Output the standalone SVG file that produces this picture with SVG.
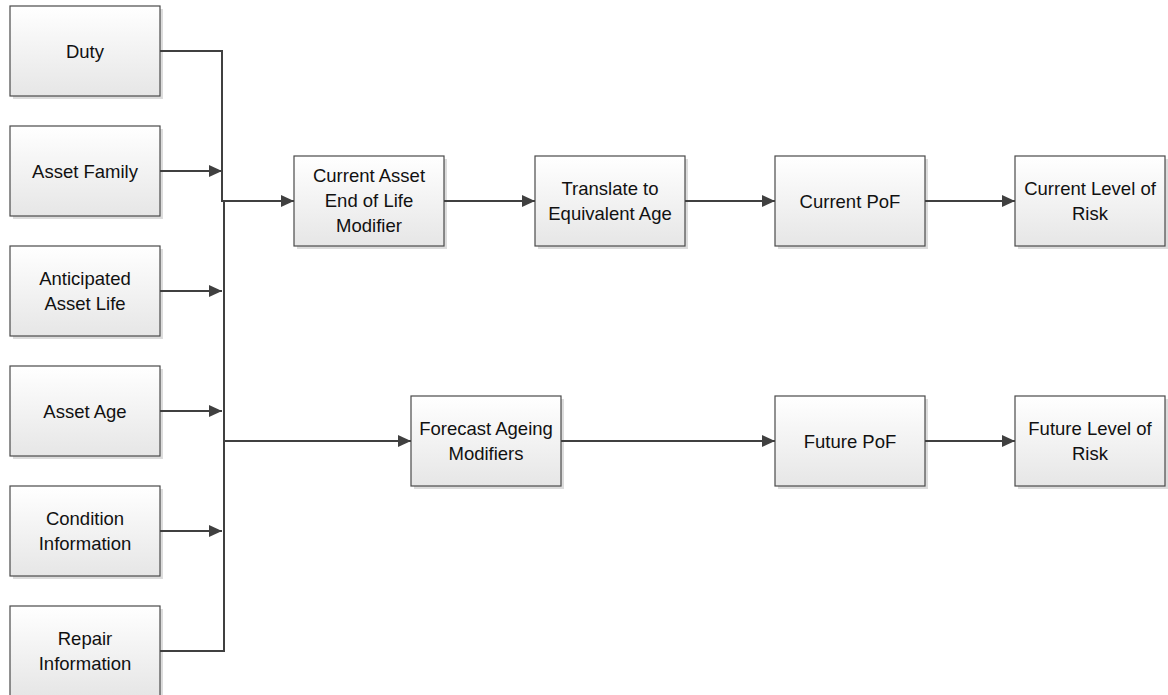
<svg xmlns="http://www.w3.org/2000/svg" width="1168" height="695" viewBox="0 0 1168 695">
  <style>
    .box { fill: url(#boxFill); stroke: #4a4a4a; stroke-width: 1.2; }
    .shadow { fill: #dcdcdc; }
    .label { font-family: "Liberation Sans", Arial, sans-serif; font-size: 18.5px; fill: #111; text-anchor: middle; }
    .wire { fill: none; stroke: #404040; stroke-width: 2; }
  </style>
  <defs>
    <linearGradient id="boxFill" x1="0" y1="0" x2="0" y2="1">
      <stop offset="0" stop-color="#ffffff"/>
      <stop offset="1" stop-color="#e6e6e6"/>
    </linearGradient>
    <marker id="arrow" viewBox="0 0 13 12" refX="13" refY="6" markerWidth="13" markerHeight="12" markerUnits="userSpaceOnUse" orient="auto">
      <path d="M0,0 L13,6 L0,12 Z" fill="#404040"/>
    </marker>
  </defs>
  <rect width="1168" height="695" fill="#ffffff"/>

  <!-- input nodes -->
  <g id="duty">
    <rect class="shadow" x="13" y="9" width="150" height="90"/>
    <rect class="box" x="10" y="6" width="150" height="90"/>
    <text class="label" x="85" y="57.5">Duty</text>
  </g>
  <g id="asset-family">
    <rect class="shadow" x="13" y="129" width="150" height="90"/>
    <rect class="box" x="10" y="126" width="150" height="90"/>
    <text class="label" x="85" y="177.5">Asset Family</text>
  </g>
  <g id="anticipated-asset-life">
    <rect class="shadow" x="13" y="249" width="150" height="90"/>
    <rect class="box" x="10" y="246" width="150" height="90"/>
    <text class="label" x="85" y="285">Anticipated</text>
    <text class="label" x="85" y="310">Asset Life</text>
  </g>
  <g id="asset-age">
    <rect class="shadow" x="13" y="369" width="150" height="90"/>
    <rect class="box" x="10" y="366" width="150" height="90"/>
    <text class="label" x="85" y="417.5">Asset Age</text>
  </g>
  <g id="condition-information">
    <rect class="shadow" x="13" y="489" width="150" height="90"/>
    <rect class="box" x="10" y="486" width="150" height="90"/>
    <text class="label" x="85" y="525">Condition</text>
    <text class="label" x="85" y="550">Information</text>
  </g>
  <g id="repair-information">
    <rect class="shadow" x="13" y="609" width="150" height="90"/>
    <rect class="box" x="10" y="606" width="150" height="90"/>
    <text class="label" x="85" y="645">Repair</text>
    <text class="label" x="85" y="670">Information</text>
  </g>

  <!-- current-state chain -->
  <g id="current-eol-modifier">
    <rect class="shadow" x="297" y="159" width="150" height="90"/>
    <rect class="box" x="294" y="156" width="150" height="90"/>
    <text class="label" x="369" y="182">Current Asset</text>
    <text class="label" x="369" y="207">End of Life</text>
    <text class="label" x="369" y="232">Modifier</text>
  </g>
  <g id="equivalent-age">
    <rect class="shadow" x="538" y="159" width="150" height="90"/>
    <rect class="box" x="535" y="156" width="150" height="90"/>
    <text class="label" x="610" y="195">Translate to</text>
    <text class="label" x="610" y="220">Equivalent Age</text>
  </g>
  <g id="current-pof">
    <rect class="shadow" x="778" y="159" width="150" height="90"/>
    <rect class="box" x="775" y="156" width="150" height="90"/>
    <text class="label" x="850" y="207.5">Current PoF</text>
  </g>
  <g id="current-risk">
    <rect class="shadow" x="1018" y="159" width="150" height="90"/>
    <rect class="box" x="1015" y="156" width="150" height="90"/>
    <text class="label" x="1090" y="195">Current Level of</text>
    <text class="label" x="1090" y="220">Risk</text>
  </g>

  <!-- forecast chain -->
  <g id="forecast-modifiers">
    <rect class="shadow" x="414" y="399" width="150" height="90"/>
    <rect class="box" x="411" y="396" width="150" height="90"/>
    <text class="label" x="486" y="435">Forecast Ageing</text>
    <text class="label" x="486" y="460">Modifiers</text>
  </g>
  <g id="future-pof">
    <rect class="shadow" x="778" y="399" width="150" height="90"/>
    <rect class="box" x="775" y="396" width="150" height="90"/>
    <text class="label" x="850" y="447.5">Future PoF</text>
  </g>
  <g id="future-risk">
    <rect class="shadow" x="1018" y="399" width="150" height="90"/>
    <rect class="box" x="1015" y="396" width="150" height="90"/>
    <text class="label" x="1090" y="435">Future Level of</text>
    <text class="label" x="1090" y="460">Risk</text>
  </g>

  <!-- connectors, drawn over the box shadows -->
  <g id="connectors">
    <path class="wire" d="M160,51 H222 V201 H294" marker-end="url(#arrow)"/>
    <path class="wire" d="M160,171 H222" marker-end="url(#arrow)"/>
    <path class="wire" d="M160,291 H222" marker-end="url(#arrow)"/>
    <path class="wire" d="M160,411 H222" marker-end="url(#arrow)"/>
    <path class="wire" d="M160,531 H222" marker-end="url(#arrow)"/>
    <path class="wire" d="M160,651 H224 V441 H411" marker-end="url(#arrow)"/>
    <path class="wire" d="M222,201 H224 V441"/>
    <path class="wire" d="M444,201 H535" marker-end="url(#arrow)"/>
    <path class="wire" d="M685,201 H775" marker-end="url(#arrow)"/>
    <path class="wire" d="M925,201 H1015" marker-end="url(#arrow)"/>
    <path class="wire" d="M561,441 H775" marker-end="url(#arrow)"/>
    <path class="wire" d="M925,441 H1015" marker-end="url(#arrow)"/>
  </g>
</svg>
